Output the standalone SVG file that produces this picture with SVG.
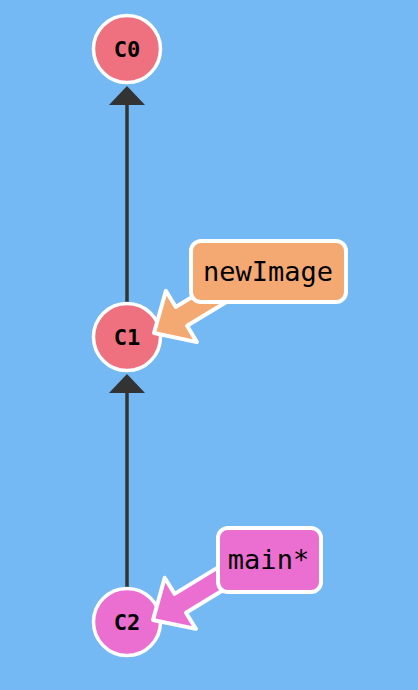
<svg xmlns="http://www.w3.org/2000/svg" width="418" height="690" viewBox="0 0 418 690">
<style>
.edge{stroke:#333;stroke-width:3.5;fill:none}
.head{fill:#333}
.commit{stroke:#fff;stroke-width:3.5}
.ctext{font-family:"DejaVu Sans Mono",monospace;font-weight:bold;font-size:22px;fill:#000;text-anchor:middle;dominant-baseline:central}
.ltext{font-family:"DejaVu Sans Mono",monospace;font-size:27px;fill:#000;text-anchor:middle;dominant-baseline:central}
.lbl{stroke:#fff;stroke-width:4;stroke-linejoin:round}
</style>
<rect width="418" height="690" fill="#74b8f4"/>
<g id="connectors">
<line class="edge" x1="127" y1="103" x2="127" y2="303"/>
<polygon class="head" points="127,86 109,105 145,105"/>
<line class="edge" x1="127" y1="391" x2="127" y2="588"/>
<polygon class="head" points="127,374 109,393 145,393"/>
</g>
<g id="C0">
<circle class="commit" cx="127" cy="49" r="33.5" fill="#ef707f"/>
<text class="ctext" x="127" y="49">C0</text>
</g>
<g id="C1">
<circle class="commit" cx="127" cy="337" r="33.5" fill="#ef707f"/>
<text class="ctext" x="127" y="337">C1</text>
</g>
<g id="C2">
<circle class="commit" cx="127" cy="622" r="33.5" fill="#ea6fd0"/>
<text class="ctext" x="127" y="622">C2</text>
</g>
<g id="newImage">
<polygon class="lbl" fill="#f4a872" points="154,333 165.9,290.8 175.7,307 227,275.9 238.4,294.7 187.1,325.8 196.9,342.1"/>
<rect class="lbl" x="191" y="241" width="155" height="61" rx="10" fill="#f4a872"/>
<text class="ltext" x="268" y="271">newImage</text>
</g>
<g id="main">
<polygon class="lbl" fill="#ea6fd0" points="153,620 164.7,577.7 174.6,593.9 234.4,557.4 245.8,576.2 186,612.7 195.9,628.9"/>
<rect class="lbl" x="218" y="528" width="103" height="64" rx="10" fill="#ea6fd0"/>
<text class="ltext" x="268.5" y="559">main*</text>
</g>
</svg>
